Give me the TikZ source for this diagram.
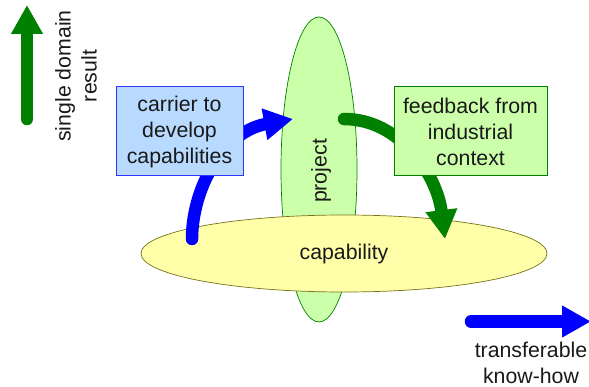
\documentclass[tikz,border=0pt]{standalone}
\usepackage{fontspec}
\setmainfont{Liberation Sans}
\usetikzlibrary{shapes.geometric,arrows.meta}
\definecolor{pgreen}{HTML}{CCFFAA}
\definecolor{pyellow}{HTML}{FFFFAA}
\definecolor{pblue}{HTML}{B8DAFF}
\definecolor{dgreen}{HTML}{008000}
\tikzset{
  x=1pt,y=-1pt,
  txt/.style={font=\fontsize{21.3}{26}\selectfont,align=center,text=black!90,inner sep=0pt},
  ell/.style={ellipse,draw,line width=0.7pt,inner sep=0pt,minimum width=#1},
  boxnode/.style={rectangle,draw,line width=1pt,txt},
  fat/.style={line width=12.5pt,line cap=round,-{Triangle[length=29pt,width=30pt]}},
}
\begin{document}
\begin{tikzpicture}
\useasboundingbox (0,0) rectangle (589,387);
\node[ell=76pt,minimum height=305pt,draw=dgreen,fill=pgreen] (project) at (319,169.5) {};
\node[ell=406pt,minimum height=77pt,draw=olive!80!black,fill=pyellow] (capability) at (344,253.5) {};
\coordinate (bstart) at (192,239);
\coordinate (btip) at (293,119);
\coordinate (gstart) at (344,119);
\coordinate (gtip) at (445,239);
\draw[fat,blue] (bstart) .. controls (192,190) and (222,132) .. (btip);
\draw[fat,dgreen] (gstart) .. controls (400,119) and (437,175) .. (gtip);
\node[txt,rotate=90] (plabel) at (321,171) {project};
\node[txt] (clabel) at (344,254) {capability};
\node[boxnode,draw=blue!80,fill=pblue,minimum width=127pt,minimum height=89pt] (carrier) at (179.5,131.5) {carrier to\\develop\\capabilities};
\node[boxnode,draw=dgreen,fill=pgreen,minimum width=153pt,minimum height=89pt] (feedback) at (470.5,131.5) {feedback from\\industrial\\context};
\coordinate (vs) at (27,119);
\coordinate (vt) at (27,5);
\coordinate (hs) at (471,321.5);
\coordinate (ht) at (591,321.5);
\draw[fat,dgreen] (vs) -- (vt);
\draw[fat,blue] (hs) -- (ht);
\node[txt,rotate=90] (single) at (76,76) {single domain\\result};
\node[txt] (transfer) at (531,362.5) {transferable\\know-how};
\end{tikzpicture}
\end{document}
